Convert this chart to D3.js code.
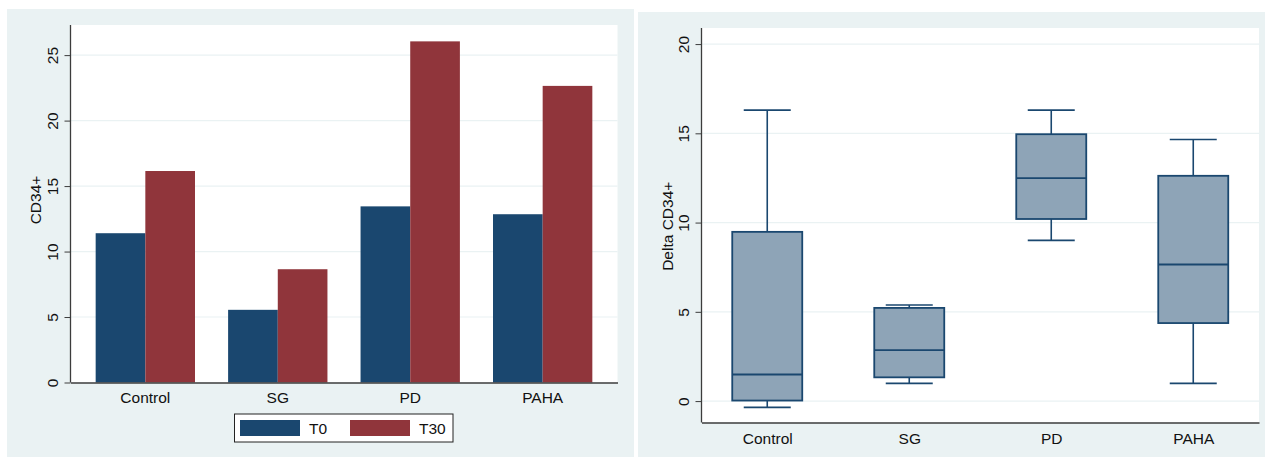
<!DOCTYPE html>
<html>
<head>
<meta charset="utf-8">
<script src="https://cdn.jsdelivr.net/npm/d3@7"></script>
<style>
  html, body { margin: 0; padding: 0; background: #ffffff; }
  svg { display: block; font-family: "Liberation Sans", Arial, sans-serif; }
</style>
</head>
<body>
<svg id="chart" width="1265" height="457"></svg>
<script>
// Group labels shared by both panels
const categories = ["Control", "SG", "PD", "PAHA"];

// Bar panel: mean CD34+ at baseline and day 30
const seriesNames = ["T0", "T30"];
const valuesT0 = [11.4, 5.55, 13.45, 12.85];
const valuesT30 = [16.15, 8.65, 26.05, 22.65];
const barTicks = [0, 5, 10, 15, 20, 25];

// Box panel: change in CD34+ (whisker low, Q1, median, Q3, whisker high)
const whiskerLow = [-0.35, 0.99, 9.0, 0.99];
const quartile1 = [0.03, 1.33, 10.2, 4.37];
const medians = [1.49, 2.86, 12.49, 7.65];
const quartile3 = [9.48, 5.22, 14.95, 12.62];
const whiskerHigh = [16.3, 5.38, 16.3, 14.65];
const boxTicks = [0, 5, 10, 15, 20];

const colors = { T0: "#1a476f", T30: "#90353b" };
const panelBg = "#eaf2f3";
const gridColor = "#eaf2f3";
const axisColor = "#3c3c3c";
const boxFill = "#8ea4b7";
const boxLine = "#1a476f";
const fontSize = "15.5px";

const svg = d3.select("#chart");

// ---------- Left panel: grouped bars ----------
svg.append("rect").attr("x", 7).attr("y", 9).attr("width", 627).attr("height", 448).attr("fill", panelBg);

const L = { left: 70.5, right: 617.5, top: 25, bottom: 382.5 };
svg.append("rect").attr("x", L.left).attr("y", L.top)
  .attr("width", L.right - L.left).attr("height", L.bottom - L.top).attr("fill", "#ffffff");

const xBand = d3.scaleBand().domain(categories).range([L.left, L.right])
  .paddingInner(0.25).paddingOuter(0.19);
const xSub = d3.scaleBand().domain(seriesNames).range([0, xBand.bandwidth()]);
const yBar = d3.scaleLinear().domain([0, 27.3]).range([L.bottom, L.top]);

// gridlines
svg.append("g").selectAll("line").data(barTicks.filter(t => t > 0)).join("line")
  .attr("x1", L.left).attr("x2", L.right)
  .attr("y1", d => yBar(d)).attr("y2", d => yBar(d))
  .attr("stroke", gridColor).attr("stroke-width", 1.2);

const barRows = categories.map((c, i) => ({ cat: c, T0: valuesT0[i], T30: valuesT30[i] }));
const groups = svg.append("g").selectAll("g").data(barRows).join("g")
  .attr("transform", d => `translate(${xBand(d.cat)},0)`);
groups.selectAll("rect").data(d => seriesNames.map(s => ({ s, v: d[s] }))).join("rect")
  .attr("x", d => xSub(d.s)).attr("width", xSub.bandwidth())
  .attr("y", d => yBar(d.v)).attr("height", d => yBar(0) - yBar(d.v))
  .attr("fill", d => colors[d.s]);

function styleLeftAxis(g, offset) {
  g.select(".domain").attr("stroke", axisColor).attr("stroke-width", 1.3);
  g.selectAll(".tick line").attr("stroke", axisColor).attr("stroke-width", 1);
  g.selectAll(".tick text")
    .attr("x", 0).attr("y", 0).attr("dy", "0.36em")
    .attr("transform", `translate(${offset},0) rotate(-90)`)
    .attr("text-anchor", "middle")
    .attr("fill", "#111").style("font-size", fontSize);
}

const yAxisL = svg.append("g").attr("transform", `translate(${L.left},0)`)
  .call(d3.axisLeft(yBar).tickValues(barTicks).tickSize(6).tickSizeOuter(0));
yAxisL.select(".domain").attr("d", `M0,${L.top}V${L.bottom}`);
styleLeftAxis(yAxisL, -18);

const xAxisL = svg.append("g").attr("transform", `translate(0,${L.bottom})`)
  .call(d3.axisBottom(xBand).tickSize(0).tickSizeOuter(0).tickPadding(9));
xAxisL.select(".domain").attr("stroke", axisColor).attr("stroke-width", 1.3);
xAxisL.selectAll(".tick text").attr("fill", "#111").style("font-size", fontSize);

svg.append("text").attr("transform", "translate(41,200) rotate(-90)")
  .attr("text-anchor", "middle").attr("fill", "#111").style("font-size", fontSize)
  .text("CD34+");

// legend
const legend = svg.append("g");
legend.append("rect").attr("x", 234.5).attr("y", 414).attr("width", 218.5).attr("height", 28)
  .attr("fill", "#ffffff").attr("stroke", "#222").attr("stroke-width", 1);
const legendX = d3.scalePoint().domain(seriesNames).range([240, 350]);
const li = legend.selectAll("g").data(seriesNames).join("g")
  .attr("transform", d => `translate(${legendX(d)},420)`);
li.append("rect").attr("width", 60).attr("height", 16).attr("fill", d => colors[d]);
li.append("text").attr("x", 69).attr("y", 14).attr("fill", "#111").style("font-size", fontSize)
  .text(d => d);

// ---------- Right panel: box plots ----------
svg.append("rect").attr("x", 638).attr("y", 12).attr("width", 627).attr("height", 445).attr("fill", panelBg);

const R = { left: 701.5, right: 1259, top: 28, bottom: 422.5 };
svg.append("rect").attr("x", R.left).attr("y", R.top)
  .attr("width", R.right - R.left).attr("height", R.bottom - R.top).attr("fill", "#ffffff");

const xPoint = d3.scalePoint().domain(categories).range([R.left, R.right]).padding(0.463);
const yBox = d3.scaleLinear().domain([-1.2, 20.9]).range([R.bottom, R.top]);

svg.append("g").selectAll("line").data(boxTicks).join("line")
  .attr("x1", R.left).attr("x2", R.right)
  .attr("y1", d => yBox(d)).attr("y2", d => yBox(d))
  .attr("stroke", gridColor).attr("stroke-width", 1.2);

const boxes = categories.map((c, i) => ({
  cat: c, lo: whiskerLow[i], q1: quartile1[i], med: medians[i], q3: quartile3[i], hi: whiskerHigh[i]
}));
const boxW = 70, capW = 47;
const bg = svg.append("g").selectAll("g").data(boxes).join("g")
  .attr("transform", d => `translate(${xPoint(d.cat)},0)`);
bg.append("line").attr("x1", 0).attr("x2", 0)
  .attr("y1", d => yBox(d.hi)).attr("y2", d => yBox(d.q3))
  .attr("stroke", boxLine).attr("stroke-width", 1.6);
bg.append("line").attr("x1", 0).attr("x2", 0)
  .attr("y1", d => yBox(d.q1)).attr("y2", d => yBox(d.lo))
  .attr("stroke", boxLine).attr("stroke-width", 1.6);
bg.append("line").attr("x1", -capW / 2).attr("x2", capW / 2)
  .attr("y1", d => yBox(d.hi)).attr("y2", d => yBox(d.hi))
  .attr("stroke", boxLine).attr("stroke-width", 1.6);
bg.append("line").attr("x1", -capW / 2).attr("x2", capW / 2)
  .attr("y1", d => yBox(d.lo)).attr("y2", d => yBox(d.lo))
  .attr("stroke", boxLine).attr("stroke-width", 1.6);
bg.append("rect").attr("x", -boxW / 2).attr("width", boxW)
  .attr("y", d => yBox(d.q3)).attr("height", d => yBox(d.q1) - yBox(d.q3))
  .attr("fill", boxFill).attr("stroke", boxLine).attr("stroke-width", 1.8);
bg.append("line").attr("x1", -boxW / 2).attr("x2", boxW / 2)
  .attr("y1", d => yBox(d.med)).attr("y2", d => yBox(d.med))
  .attr("stroke", boxLine).attr("stroke-width", 1.8);

const yAxisR = svg.append("g").attr("transform", `translate(${R.left},0)`)
  .call(d3.axisLeft(yBox).tickValues(boxTicks).tickSize(6).tickSizeOuter(0));
yAxisR.select(".domain").attr("d", `M0,${R.top}V${R.bottom}`);
styleLeftAxis(yAxisR, -18);

const xAxisR = svg.append("g").attr("transform", `translate(0,${R.bottom})`)
  .call(d3.axisBottom(xPoint).tickSize(0).tickSizeOuter(0).tickPadding(10));
xAxisR.select(".domain").attr("stroke", axisColor).attr("stroke-width", 1.3);
xAxisR.selectAll(".tick text").attr("fill", "#111").style("font-size", fontSize);

svg.append("text").attr("transform", `translate(673,${(R.top + R.bottom) / 2 + 1}) rotate(-90)`)
  .attr("text-anchor", "middle").attr("fill", "#111").style("font-size", fontSize)
  .text("Delta CD34+");
</script>
</body>
</html>
